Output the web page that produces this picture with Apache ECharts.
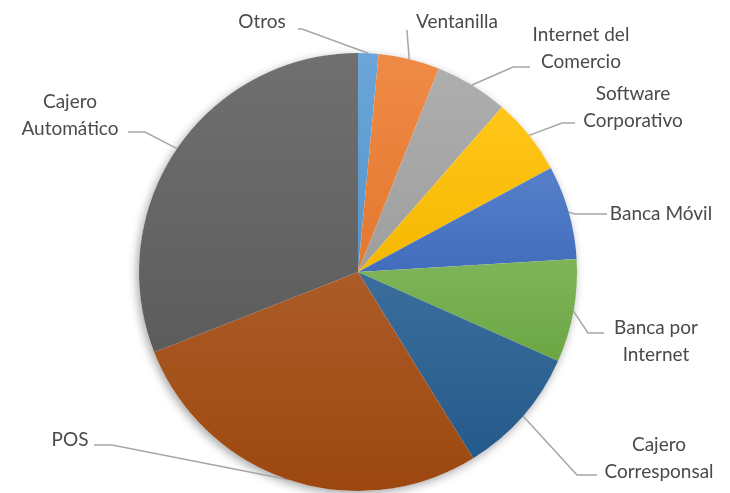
<!DOCTYPE html>
<html>
<head>
<meta charset="utf-8">
<script src="https://cdn.jsdelivr.net/npm/echarts@6/dist/echarts.min.js"></script>
<style>
html,body{margin:0;padding:0;background:#fff;}
#chart{width:730px;height:493px;}
</style>
</head>
<body>
<div id="chart"></div>
<script>
// Data (clockwise from 12 o'clock), percentages
var categories = ['Otros','Ventanilla','Internet del Comercio','Software Corporativo','Banca Móvil','Banca por Internet','Cajero Corresponsal','POS','Cajero Automático'];
var labelTexts = ['Otros','Ventanilla','Internet del\nComercio','Software\nCorporativo','Banca Móvil','Banca por\nInternet','Cajero\nCorresponsal','POS','Cajero\nAutomático'];
var values = [1.5, 4.5, 5.4, 5.7, 6.9, 7.6, 9.5, 27.8, 30.9];
var colors = ['#5B9BD5','#ED7D31','#A5A5A5','#FFC000','#4472C4','#70AD47','#255E91','#A34A10','#606060'];

// label placement (text centre, and leader-line bend / end points)
var labelPlace = [
  {x:262, y:22,  bend:[302,29], end:[298,29]},
  {x:457, y:22,  bend:[407,31], end:[407,30]},
  {x:581, y:48,  bend:[513,67], end:[530,67]},
  {x:633, y:107, bend:[562,123], end:[575,123]},
  {x:661, y:214, bend:[575,214], end:[607,214]},
  {x:656, y:341, bend:[588,333], end:[604,333]},
  {x:659, y:458, bend:[577,475], end:[597,475]},
  {x:70,  y:440, bend:[112,445], end:[94,445]},
  {x:70,  y:115, bend:[145,132], end:[128,132]}
];

function mix(hex, target, t){
  var n = parseInt(hex.slice(1),16);
  var r=(n>>16)&255, g=(n>>8)&255, b=n&255;
  r=Math.round(r+(target-r)*t); g=Math.round(g+(target-g)*t); b=Math.round(b+(target-b)*t);
  return 'rgb('+r+','+g+','+b+')';
}
function shade(hex){
  return new echarts.graphic.LinearGradient(0,0,0,1,[
    {offset:0, color:mix(hex,255,0.10)},
    {offset:1, color:mix(hex,0,0.04)}
  ]);
}

var chart = echarts.init(document.getElementById('chart'), null, {renderer:'canvas'});
var data = categories.map(function(c,i){
  return {name:c, value:values[i], itemStyle:{color:shade(colors[i])}};
});

chart.setOption({
  animation:false,
  backgroundColor:'#ffffff',
  series:[
    {
      type:'pie',
      silent:true,
      center:[358,272],
      radius:[0,219],
      z:1,
      label:{show:false},
      labelLine:{show:false},
      data:[{value:1, itemStyle:{color:'#ffffff', shadowBlur:10, shadowOffsetX:-2, shadowOffsetY:3, shadowColor:'rgba(0,0,0,0.35)'}}]
    },
    {
      type:'pie',
      z:2,
      center:[358,272],
      radius:[0,219],
      startAngle:90,
      clockwise:true,
      avoidLabelOverlap:false,
      itemStyle:{borderWidth:0},
      label:{
        show:true,
        position:'outside',
        formatter:function(p){return labelTexts[p.dataIndex];},
        fontFamily:'Lato',
        fontSize:19,
        color:'#4A4A4A',
        lineHeight:27,
        align:'center'
      },
      labelLine:{show:true, length:20, length2:20, smooth:false, lineStyle:{color:'#A6A6A6', width:1.5}},
      labelLayout:function(params){
        var lp = labelPlace[params.dataIndex];
        var pts = params.labelLinePoints;
        var start = pts ? pts[0] : lp.bend;
        return {
          x:lp.x, y:lp.y, align:'center', verticalAlign:'middle',
          labelLinePoints:[start, lp.bend, lp.end]
        };
      },
      data:data
    }
  ]
});
</script>
</body>
</html>
